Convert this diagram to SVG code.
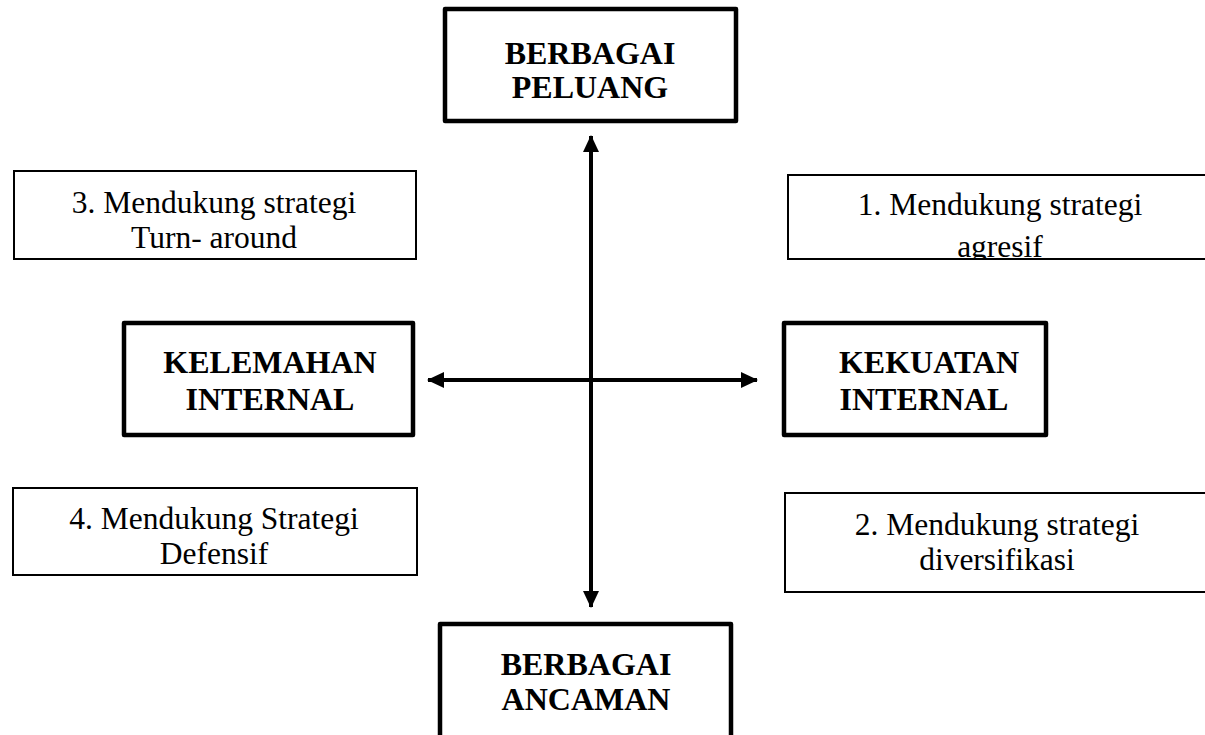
<svg xmlns="http://www.w3.org/2000/svg" width="1205" height="735" viewBox="0 0 1205 735">
<style>
.thick{fill:#fff;stroke:#000;stroke-width:4.5;stroke-linejoin:round}
.thin{fill:#fff;stroke:#000;stroke-width:2}
.bold{font-family:"Liberation Serif","Times New Roman",serif;font-weight:bold;font-size:32px;fill:#000;text-anchor:middle}
.reg{font-family:"Liberation Serif","Times New Roman",serif;font-size:31.5px;fill:#000;text-anchor:middle}
.conn{stroke:#000;stroke-width:4;fill:none}
</style>
<defs>
<marker id="ah" viewBox="0 0 17 16" refX="16" refY="8" markerWidth="17" markerHeight="16" markerUnits="userSpaceOnUse" orient="auto-start-reverse">
<path d="M0,0 L17,8 L0,16 Z" fill="#000"/>
</marker>
<clipPath id="clipq1"><rect x="788" y="175" width="430" height="84"/></clipPath>
</defs>
<rect width="1205" height="735" fill="#fff"/>
<g id="connectors">
<line class="conn" x1="591" y1="136" x2="591" y2="607" marker-start="url(#ah)" marker-end="url(#ah)"/>
<line class="conn" x1="428" y1="380" x2="757" y2="380" marker-start="url(#ah)" marker-end="url(#ah)"/>
</g>
<g id="peluang">
<rect class="thick" x="445" y="9" width="291" height="112"/>
<text class="bold" x="590" y="64">BERBAGAI</text>
<text class="bold" x="590" y="98">PELUANG</text>
</g>
<g id="kelemahan">
<rect class="thick" x="124" y="323" width="289" height="112"/>
<text class="bold" x="270" y="373">KELEMAHAN</text>
<text class="bold" x="270" y="410">INTERNAL</text>
</g>
<g id="kekuatan">
<rect class="thick" x="784" y="323" width="262" height="112"/>
<text class="bold" x="929" y="373">KEKUATAN</text>
<text class="bold" x="924" y="410">INTERNAL</text>
</g>
<g id="ancaman">
<rect class="thick" x="440" y="624" width="291" height="125"/>
<text class="bold" x="586" y="675">BERBAGAI</text>
<text class="bold" x="586" y="710">ANCAMAN</text>
</g>
<g id="q3">
<rect class="thin" x="14" y="171" width="402" height="88"/>
<text class="reg" x="214" y="213">3. Mendukung strategi</text>
<text class="reg" x="214" y="248">Turn- around</text>
</g>
<g id="q1">
<rect class="thin" x="788" y="175" width="430" height="84"/>
<g clip-path="url(#clipq1)">
<text class="reg" x="1000" y="215">1. Mendukung strategi</text>
<text class="reg" x="1000" y="257">agresif</text>
</g>
<line x1="788" y1="259" x2="1205" y2="259" stroke="#000" stroke-width="2"/>
</g>
<g id="q4">
<rect class="thin" x="13" y="488" width="404" height="87"/>
<text class="reg" x="214" y="529">4. Mendukung Strategi</text>
<text class="reg" x="214" y="564">Defensif</text>
</g>
<g id="q2">
<rect class="thin" x="785" y="493" width="430" height="99"/>
<text class="reg" x="997" y="535">2. Mendukung strategi</text>
<text class="reg" x="997" y="570">diversifikasi</text>
</g>
</svg>
